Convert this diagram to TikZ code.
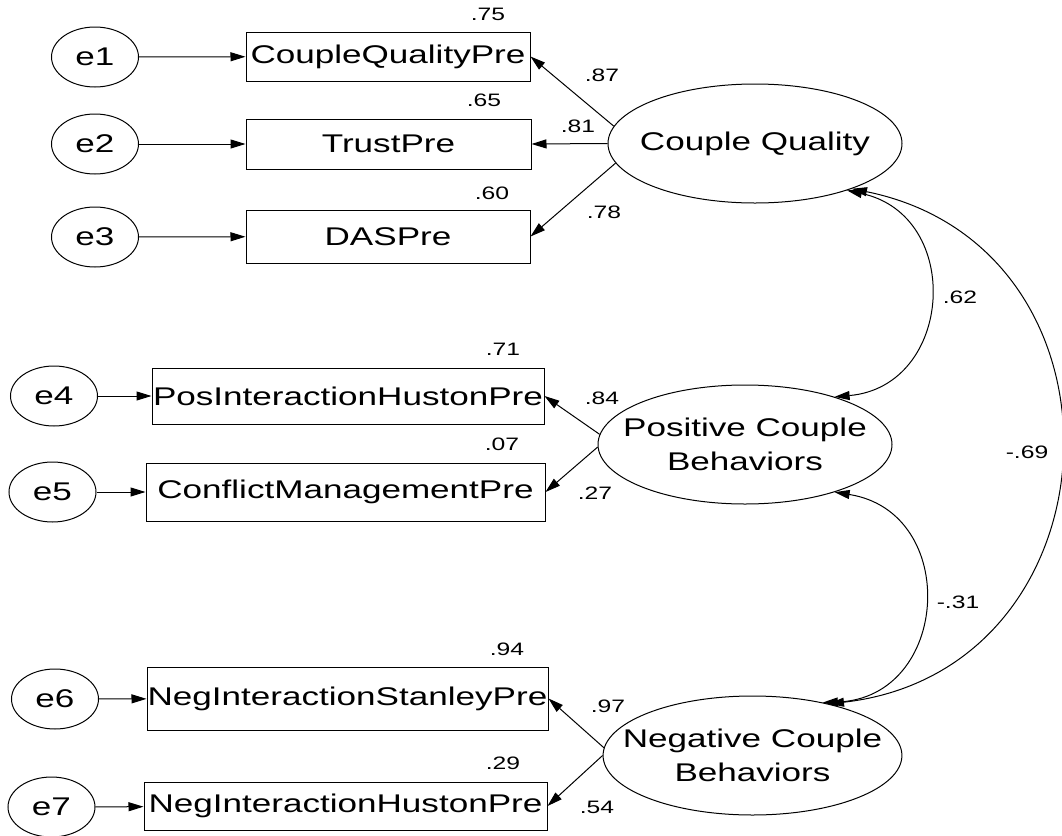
\documentclass[tikz,border=0pt]{standalone}
\usepackage{fontspec}
\usetikzlibrary{arrows.meta,shapes.geometric}
\newfontfamily\amosfont[FakeStretch=1.37]{Liberation Sans}
\newcommand\varfont{\amosfont\fontsize{12.8pt}{17pt}\selectfont}
\newcommand\coeffont{\amosfont\fontsize{9pt}{10.5pt}\selectfont}
\tikzset{err/.style={ellipse,draw,minimum width=43.5pt,minimum height=30pt,inner sep=0pt,font=\varfont},
  obs/.style={rectangle,draw,inner xsep=0pt,inner ysep=1pt,font=\varfont},
  lat/.style={ellipse,draw,minimum width=147pt,minimum height=59.5pt,inner xsep=-12pt,inner ysep=0pt,align=center,font=\varfont},
  coef/.style={inner sep=0pt,font=\coeffont},
  path/.style={-{Triangle[length=7.5pt,width=4.5pt]},line width=0.5pt},
  cov/.style={{Triangle[length=7.5pt,width=4.5pt]}-{Triangle[length=7.5pt,width=4.5pt]},line width=0.5pt}}

\begin{document}
\begin{tikzpicture}[x=0.5pt,y=0.5pt,line width=0.5pt]
\useasboundingbox (0,0) rectangle (1062,-836);
% latent factors
\node[lat] (cq) at (755,-143.5) {Couple Quality};
\node[lat] (pcb) at (745,-444.5) {Positive Couple\\Behaviors};
\node[lat,minimum width=146.5pt] (ncb) at (752.5,-755.5) {Negative Couple\\Behaviors};
% indicators
\node[obs,minimum width=142pt,minimum height=24.5pt] (cqp) at (388,-56.5) {CoupleQualityPre};
\node[obs,minimum width=142.5pt,minimum height=25pt] (trust) at (388.5,-144) {TrustPre};
\node[obs,minimum width=142pt,minimum height=26.5pt] (das) at (388,-236.5) {DASPre};
\node[obs,minimum width=196pt,minimum height=28pt] (posih) at (348,-396) {PosInteractionHustonPre};
\node[obs,minimum width=199.5pt,minimum height=29pt] (cmp) at (345.5,-492) {ConflictManagementPre};
\node[obs,minimum width=200.5pt,minimum height=31.5pt] (nisp) at (347.5,-698.5) {NegInteractionStanleyPre};
\node[obs,minimum width=201.5pt,minimum height=24pt] (nihp) at (345.5,-806) {NegInteractionHustonPre};
% error terms
\node[err] (e1) at (95,-57) {e1};
\node[err] (e2) at (95,-144) {e2};
\node[err] (e3) at (95,-237) {e3};
\node[err] (e4) at (54,-396) {e4};
\node[err] (e5) at (52.5,-492) {e5};
\node[err] (e6) at (55,-699) {e6};
\node[err] (e7) at (51.5,-807) {e7};
\draw[path] (e1)--(cqp); \draw[path] (e2)--(trust); \draw[path] (e3)--(das);
\draw[path] (e4)--(posih); \draw[path] (e5)--(cmp); \draw[path] (e6)--(nisp); \draw[path] (e7)--(nihp);
% loadings
\draw[path] (cq.173)--(cqp.east); \draw[path] (cq.west)--(trust.east); \draw[path] (cq.188)--(das.east);
\draw[path] (pcb.176)--(posih.east); \draw[path] (pcb.181)--(cmp.east);
\draw[path] (ncb.177)--(nisp.east); \draw[path] (ncb.180)--(nihp.east);
% covariances
\draw[cov] (cq.-27) to[out=-12,in=5,looseness=1.48] (pcb.28);
\draw[cov] (pcb.-28) to[out=-9,in=2,looseness=1.55] (ncb.37);
\draw[cov] (cq.-25) to[out=-11.5,in=6.5,looseness=1.47] (ncb.34);
% estimates
\node[coef] (r2cqp) at (488,-14) {.75};
\node[coef] (r2trust) at (484,-100) {.65};
\node[coef] (r2das) at (492,-193) {.60};
\node[coef] (r2posih) at (503,-349) {.71};
\node[coef] (r2cmp) at (502,-444) {.07};
\node[coef] (r2nisp) at (507,-649) {.94};
\node[coef] (r2nihp) at (503,-763) {.29};
\node[coef] (lcqp) at (602,-75) {.87};
\node[coef] (ltrust) at (578,-126) {.81};
\node[coef] (ldas) at (604,-212) {.78};
\node[coef] (lposih) at (602,-398) {.84};
\node[coef] (lcmp) at (595,-493) {.27};
\node[coef] (lnisp) at (608,-706) {.97};
\node[coef] (lnihp) at (597,-807) {.54};
\node[coef] (ccqpcb) at (960,-297) {.62};
\node[coef] (cpcbncb) at (958,-602) {-.31};
\node[coef] (ccqncb) at (1027,-452) {-.69};
\end{tikzpicture}
\end{document}
